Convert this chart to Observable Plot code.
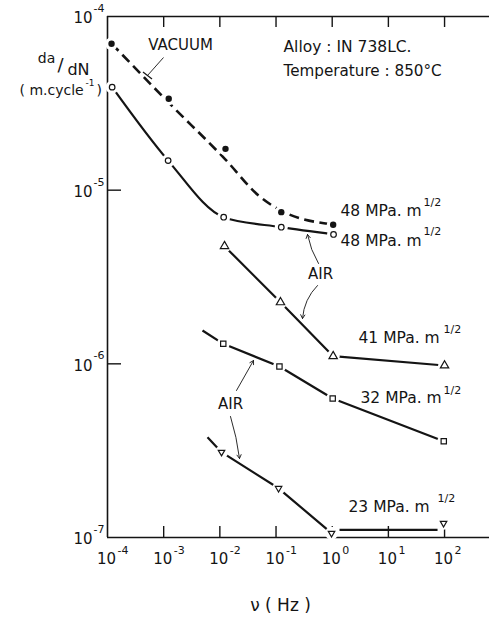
<!DOCTYPE html>
<html>
<head>
<meta charset="utf-8">
<script src="https://cdn.jsdelivr.net/npm/d3@7"></script>
<script src="https://cdn.jsdelivr.net/npm/@observablehq/plot@0.6"></script>
<style>
  html, body { margin: 0; padding: 0; background: #fff; }
  #chart { width: 489px; height: 617px; }
</style>
</head>
<body>
<div id="chart"></div>
<script>
// ---------------- data ----------------
const xTicks = [1e-4, 1e-3, 1e-2, 1e-1, 1, 10, 100];
const yTicks = [1e-4, 1e-5, 1e-6, 1e-7];

// Vacuum, 48 MPa.m^1/2 (filled circles) and the dashed curve drawn through them
const vacuumX = [1.18e-4, 1.23e-3, 1.26e-2, 0.124, 1.04];
const vacuumY = [6.97e-5, 3.36e-5, 1.73e-5, 7.47e-6, 6.32e-6];
const vacuumCurveX = [1.18e-4, 1.22e-3, 1.26e-2, 4.9e-2, 0.125, 1.054];
const vacuumCurveY = [6.99e-5, 3.2e-5, 1.50e-5, 9.3e-6, 7.60e-6, 6.34e-6];

// Air, 48 MPa.m^1/2 (open circles)
const air48X = [1.21e-4, 1.20e-3, 1.17e-2, 0.124, 1.056];
const air48Y = [3.92e-5, 1.48e-5, 6.99e-6, 6.12e-6, 5.56e-6];

// Air, 41 MPa.m^1/2 (triangles)
const air41X = [1.21e-2, 0.120, 1.04, 100];
const air41Y = [4.76e-6, 2.26e-6, 1.107e-6, 9.78e-7];

// Air, 32 MPa.m^1/2 (squares) + start of drawn line
const air32LeadX = [4.91e-3];
const air32LeadY = [1.556e-6];
const air32X = [1.15e-2, 0.115, 1.02, 96.8];
const air32Y = [1.304e-6, 9.65e-7, 6.32e-7, 3.58e-7];

// Air, 23 MPa.m^1/2 (down triangles) + start of drawn line + flat segment
const air23LeadX = [6.03e-3];
const air23LeadY = [3.78e-7];
const air23X = [1.07e-2, 0.111, 0.973, 96];
const air23Y = [3.10e-7, 1.92e-7, 1.059e-7, 1.209e-7];
const air23FlatX = [1.35, 75];
const air23FlatY = [1.107e-7, 1.107e-7];

// ---------------- helpers ----------------
const F = "'DejaVu Sans', Lato, sans-serif";
const INK = "#141414";
const pts = (xs, ys) => xs.map((x, i) => ({x, y: ys[i]}));
// pixel -> data, used only for placing annotations
const X = px => 10 ** (-4 + (px - 107) * 6.8 / 382);
const Y = py => 10 ** (-4 - (py - 16) * 3 / 521);
const label = (str, px, py, opts = {}) =>
  Plot.text([str], {x: () => X(px), y: () => Y(py), text: d => d,
    fontFamily: F, fontSize: 15, fill: INK, lineAnchor: "middle", ...opts});

const downTriangle = {
  draw(context, size) {
    const s = Math.sqrt(size) * 0.6824, t = s / 2, u = s * Math.sqrt(3) / 2;
    context.moveTo(0, s);
    context.lineTo(u, -t);
    context.lineTo(-u, -t);
    context.closePath();
  }
};

const vac = pts(vacuumX, vacuumY);
const vacCurve = pts(vacuumCurveX, vacuumCurveY);
const a48 = pts(air48X, air48Y);
const a41 = pts(air41X, air41Y);
const a32 = pts(air32X, air32Y);
const a32line = pts(air32LeadX.concat(air32X), air32LeadY.concat(air32Y));
const a23 = pts(air23X, air23Y);
const a23line = pts(air23LeadX.concat(air23X.slice(0, 3)), air23LeadY.concat(air23Y.slice(0, 3)));
const a23flat = pts(air23FlatX, air23FlatY);
const allMarkers = [...vac, ...a48, ...a41, ...a32, ...a23];

const lineStyle = {x: "x", y: "y", stroke: INK, strokeWidth: 2.2, strokeLinecap: "butt"};
const expo = d => { const e = Math.round(Math.log10(d)); return e < 0 ? "-" + (-e) : String(e); };

const plot = Plot.plot({
  width: 489,
  height: 617,
  marginLeft: 107,
  marginRight: 0,
  marginTop: 16,
  marginBottom: 80,
  style: {fontFamily: F, background: "white", color: INK},
  x: {type: "log", domain: [1e-4, 10 ** 2.8], axis: null},
  y: {type: "log", domain: [1e-7, 1e-4], axis: null},
  marks: [
    // frame (top, bottom, left)
    Plot.ruleY([1e-4, 1e-7], {stroke: INK, strokeWidth: 1.6}),
    Plot.ruleX([1e-4], {stroke: INK, strokeWidth: 1.6}),
    // inward ticks
    Plot.ruleX(xTicks.slice(1), {x: d => d, insetTop: 510, stroke: INK, strokeWidth: 1.4}),
    Plot.ruleX(xTicks.slice(1), {x: d => d, insetBottom: 510, stroke: INK, strokeWidth: 1.4}),
    Plot.ruleY(yTicks.slice(1, 3), {y: d => d, insetRight: 368, stroke: INK, strokeWidth: 1.4}),
    // x tick labels
    Plot.text(xTicks, {x: d => d, y: () => 1e-7, text: () => "10", dy: 22, dx: -1,
      fontSize: 15, fill: INK, fontFamily: F}),
    Plot.text(xTicks, {x: d => d, y: () => 1e-7, text: expo, dy: 13, dx: 10, textAnchor: "start",
      fontSize: 11, fill: INK, fontFamily: F}),
    // y tick labels
    Plot.text(yTicks, {x: () => 1e-4, y: d => d, text: () => "10", dx: -15, dy: 2,
      textAnchor: "end", fontSize: 15, fill: INK, fontFamily: F}),
    Plot.text(yTicks, {x: () => 1e-4, y: d => d, text: expo, dx: -14, dy: -8,
      textAnchor: "start", fontSize: 11, fill: INK, fontFamily: F}),

    // curves
    Plot.line(vacCurve, {...lineStyle, curve: "monotone-x", strokeWidth: 2.6, strokeDasharray: "10,5.5"}),
    Plot.line(a48, {...lineStyle, curve: "monotone-x"}),
    Plot.line(a41, {...lineStyle}),
    Plot.line(a32line, {...lineStyle}),
    Plot.line(a23line, {...lineStyle}),
    Plot.line(a23flat, {...lineStyle}),

    // white halos make the gaps around the symbols
    Plot.dot(allMarkers, {x: "x", y: "y", r: 6.5, fill: "white"}),

    // symbols
    Plot.dot(vac, {x: "x", y: "y", r: 3.2, fill: INK}),
    Plot.dot(a48, {x: "x", y: "y", r: 2.8, fill: "white", stroke: INK, strokeWidth: 1.2}),
    Plot.dot(a41, {x: "x", y: "y", r: 3.1, symbol: "triangle", fill: "white", stroke: INK, strokeWidth: 1.2}),
    Plot.dot(a32, {x: "x", y: "y", r: 3.0, symbol: "square", fill: "white", stroke: INK, strokeWidth: 1.2}),
    Plot.dot(a23, {x: "x", y: "y", r: 3.1, symbol: downTriangle, fill: "white", stroke: INK, strokeWidth: 1.2}),

    // series labels
    label("48 MPa. m", 340, 211, {textAnchor: "start", fontSize: 15.5}),
    label("1/2", 423, 202, {textAnchor: "start", fontSize: 11}),
    label("48 MPa. m", 340, 241, {textAnchor: "start", fontSize: 15.5}),
    label("1/2", 423, 231, {textAnchor: "start", fontSize: 11}),
    label("41 MPa. m", 358, 338, {textAnchor: "start", fontSize: 15.5}),
    label("1/2", 443, 329, {textAnchor: "start", fontSize: 11}),
    label("32 MPa. m", 360, 398, {textAnchor: "start", fontSize: 15.5}),
    label("1/2", 443, 390, {textAnchor: "start", fontSize: 11}),
    label("23 MPa. m", 348, 507, {textAnchor: "start", fontSize: 15.5}),
    label("1/2", 437, 498, {textAnchor: "start", fontSize: 11}),

    // annotations
    label("VACUUM", 180, 45, {fontSize: 15}),
    Plot.link([0], {x1: () => X(163), y1: () => Y(57), x2: () => X(147), y2: () => Y(75), stroke: INK, strokeWidth: 0.9}),
    Plot.link([0], {x1: () => X(142.5), y1: () => Y(71.5), x2: () => X(151.5), y2: () => Y(78.5), stroke: INK, strokeWidth: 1.2}),
    label("Alloy : IN 738LC.", 283, 47, {textAnchor: "start", fontSize: 15.5}),
    label("Temperature : 850°C", 283, 71, {textAnchor: "start", fontSize: 15.2}),
    label("AIR", 320, 274, {fontSize: 15}),
    label("AIR", 230, 404, {fontSize: 15}),
    Plot.arrow([0], {x1: () => X(318), y1: () => Y(263), x2: () => X(307), y2: () => Y(234),
      bend: 10, headLength: 7, stroke: INK, strokeWidth: 0.9}),
    Plot.arrow([0], {x1: () => X(317), y1: () => Y(285), x2: () => X(302), y2: () => Y(318),
      bend: -20, headLength: 7, stroke: INK, strokeWidth: 0.9}),
    Plot.arrow([0], {x1: () => X(236), y1: () => Y(390), x2: () => X(253), y2: () => Y(360),
      headLength: 7, stroke: INK, strokeWidth: 0.9}),
    Plot.arrow([0], {x1: () => X(230), y1: () => Y(416), x2: () => X(239), y2: () => Y(458),
      bend: 5, headLength: 7, stroke: INK, strokeWidth: 0.9}),

    // axis titles
    label("da", 46, 58, {fontSize: 14}),
    label("/", 60, 65, {fontSize: 18}),
    label("dN", 78, 69, {fontSize: 16}),
    label("( m.cycle", 19, 90, {textAnchor: "start", fontSize: 14}),
    label("-1", 85, 83, {textAnchor: "start", fontSize: 9}),
    label(")", 96, 90, {textAnchor: "start", fontSize: 14}),
    label("\u03bd ( Hz )", 280, 605, {fontSize: 17})
  ]
});
document.getElementById("chart").appendChild(plot);
</script>
</body>
</html>
